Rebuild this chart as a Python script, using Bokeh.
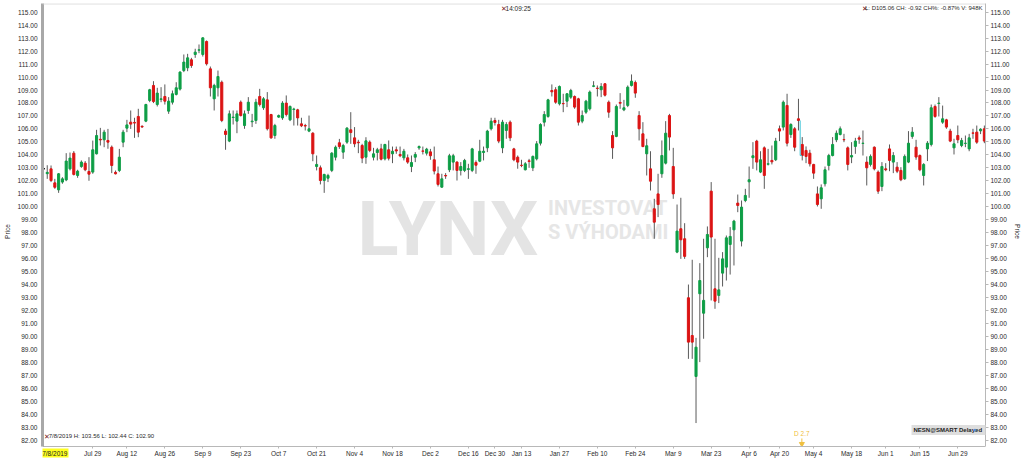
import math
from bokeh.plotting import figure
from bokeh.models import (Range1d, LinearAxis, FixedTicker, SingleIntervalTicker,
                          PrintfTickFormatter, Label, ColumnDataSource, Span)
from bokeh.embed import file_html
from bokeh.resources import INLINE

# ---------------- data (NESN daily) ----------------
opens = [102.95, 102.55, 102.92, 101.84, 101.3, 101.9, 102.07, 102.92, 104.13, 102.41,
         103.1, 103.36, 102.72, 102.67, 104.08, 105.2, 105.16, 105.11, 104.59, 102.65,
         102.79, 104.98, 106.06, 106.52, 106.5, 106.96, 106.2, 106.6, 108.19, 109.35,
         107.88, 108.27, 108.5, 107.37, 108.06, 108.66, 109.07, 110.5, 110.71, 111.33,
         111.74, 112.07, 111.74, 112.74, 110.63, 108.32, 109.17, 109.6, 105.83, 105.06,
         106.88, 106.6, 108.06, 106.26, 107.42, 106.55, 106.65, 108.5, 107.63, 108.24,
         107.11, 105.49, 106.91, 106.85, 107.99, 106.7, 107.5, 107.47, 106.39, 106.26,
         105.83, 105.67, 103.1, 103.0, 102.02, 102.2, 102.8, 103.82, 104.93, 104.21,
         104.98, 105.93, 105.31, 104.98, 104.72, 103.82, 104.98, 103.82, 104.18, 104.46,
         103.69, 104.39, 104.08, 104.39, 104.03, 103.77, 103.77, 103.1, 103.82, 104.54,
         104.3, 104.13, 104.23, 103.62, 102.54, 101.51, 102.41, 102.85, 103.44, 103.44,
         102.8, 102.8, 102.88, 102.8, 103.41, 103.51, 104.18, 104.54, 106.01, 106.65,
         106.34, 104.54, 105.88, 106.52, 104.46, 103.82, 103.2, 102.85, 103.54, 103.0,
         103.69, 104.9, 106.52, 106.96, 108.96, 109.02, 107.94, 107.96, 108.14, 108.45,
         108.5, 108.32, 106.6, 107.29, 107.55, 109.28, 109.14, 109.02, 109.48, 108.06,
         105.49, 105.42, 108.04, 107.47, 107.81, 109.35, 109.58, 107.03, 105.62, 104.08,
         102.92, 99.84, 100.99, 102.54, 103.36, 107.03, 103.1, 96.5, 98.3, 97.53,
         92.98, 90.07, 86.91, 93.29, 91.79, 96.83, 101.2, 93.67, 93.16, 94.88,
         95.34, 97.09, 98.22, 100.28, 97.35, 100.48, 101.92, 103.78, 105.06, 102.67,
         104.54, 103.28, 103.57, 103.62, 106.01, 106.14, 107.81, 105.57, 106.01, 106.78,
         104.8, 104.34, 104.13, 103.26, 100.99, 100.61, 101.77, 103.18, 103.95, 105.16,
         105.57, 105.18, 104.54, 103.83, 104.65, 105.31, 104.88, 103.44, 103.26, 104.59,
         102.67, 101.56, 102.92, 104.46, 103.44, 103.05, 102.8, 102.15, 103.44, 105.42,
         104.59, 103.95, 102.41, 104.46, 104.8, 107.73, 107.96, 106.52, 106.7, 105.83,
         104.54, 105.49, 104.72, 104.88, 104.46, 105.69, 105.75, 105.85, 106.01]
highs = [103.56, 103.2, 103.18, 102.15, 102.6, 102.28, 104.13, 104.18, 104.29, 102.85,
         103.57, 103.52, 103.82, 105.1, 105.93, 106.08, 105.93, 106.0, 104.72, 102.79,
         104.46, 105.93, 106.7, 107.42, 106.86, 107.55, 106.28, 107.94, 109.09, 109.68,
         109.17, 109.22, 109.43, 108.45, 108.96, 109.6, 110.45, 111.74, 111.79, 111.48,
         112.18, 112.51, 113.07, 112.82, 110.81, 109.48, 110.5, 109.73, 106.01, 107.42,
         107.42, 107.42, 108.19, 107.42, 108.45, 107.16, 108.32, 109.09, 108.45, 108.84,
         107.16, 106.39, 107.11, 108.14, 108.58, 107.81, 107.63, 107.55, 106.86, 106.39,
         107.03, 105.75, 103.95, 103.18, 102.54, 102.54, 104.21, 104.72, 105.23, 104.85,
         106.14, 107.29, 106.14, 105.16, 104.85, 105.36, 105.11, 104.54, 104.54, 104.85,
         104.85, 105.11, 104.64, 104.64, 104.64, 104.46, 104.03, 103.95, 104.21, 104.72,
         104.64, 104.54, 104.46, 104.64, 103.1, 102.54, 102.59, 104.08, 104.08, 103.51,
         103.44, 103.69, 103.31, 104.54, 103.57, 105.16, 104.64, 105.93, 106.86, 106.86,
         106.7, 106.7, 106.52, 106.65, 104.54, 103.95, 103.62, 103.44, 103.69, 103.95,
         105.06, 106.44, 107.37, 108.32, 109.43, 109.22, 109.35, 108.71, 108.76, 109.09,
         108.58, 108.4, 107.42, 108.24, 108.96, 109.68, 109.35, 109.53, 109.53, 108.19,
         105.83, 107.88, 108.76, 108.24, 109.35, 110.2, 109.73, 107.37, 106.52, 105.24,
         104.28, 100.61, 102.54, 105.11, 106.6, 107.16, 104.54, 100.17, 100.69, 98.73,
         94.0, 95.91, 89.89, 95.65, 97.53, 98.48, 101.9, 97.53, 96.06, 96.5,
         97.78, 98.43, 98.99, 100.94, 100.48, 101.38, 103.1, 104.98, 105.16, 104.28,
         104.65, 104.46, 104.72, 105.31, 106.26, 108.19, 108.71, 106.44, 106.14, 108.32,
         105.37, 104.65, 104.39, 103.31, 101.56, 101.72, 103.1, 104.08, 105.37, 105.88,
         106.19, 105.62, 104.65, 104.98, 105.31, 105.49, 105.88, 103.88, 104.03, 104.65,
         102.8, 103.44, 103.36, 104.8, 104.21, 103.44, 103.05, 104.03, 105.83, 106.14,
         105.16, 104.03, 103.36, 105.06, 107.88, 107.88, 108.45, 107.8, 106.78, 106.01,
         105.24, 106.26, 105.31, 105.49, 105.62, 106.01, 106.26, 106.05, 106.26]
lows = [102.44, 102.15, 101.9, 101.38, 101.07, 101.77, 101.97, 102.8, 102.41, 102.23,
        103.0, 102.74, 102.0, 102.54, 104.03, 104.72, 104.59, 104.47, 102.59, 102.49,
        102.67, 104.59, 105.75, 106.0, 105.31, 105.36, 106.08, 106.52, 108.06, 107.99,
        107.73, 108.06, 107.88, 107.16, 107.88, 108.58, 108.96, 110.38, 110.45, 110.71,
        111.48, 111.84, 111.58, 110.89, 108.5, 107.42, 108.5, 106.52, 104.39, 104.98,
        106.34, 105.67, 106.96, 106.01, 107.16, 106.14, 106.39, 107.73, 107.47, 105.88,
        105.24, 105.24, 106.85, 106.7, 106.96, 106.6, 106.26, 106.26, 106.14, 105.88,
        105.75, 103.51, 102.8, 101.72, 101.07, 101.9, 102.67, 103.57, 104.46, 103.69,
        104.85, 104.85, 104.59, 104.13, 103.36, 103.31, 104.21, 103.57, 103.57, 103.57,
        103.57, 103.57, 103.36, 104.08, 103.82, 103.57, 103.31, 102.67, 103.44, 104.39,
        104.03, 103.95, 103.62, 102.49, 101.56, 101.46, 102.15, 102.67, 102.8, 102.02,
        102.41, 102.67, 102.15, 102.67, 102.54, 103.44, 103.57, 104.21, 105.88, 106.26,
        104.9, 104.13, 105.24, 105.06, 103.51, 102.93, 103.05, 102.8, 103.0, 102.75,
        103.57, 104.72, 106.19, 106.86, 108.5, 107.94, 107.81, 107.29, 107.68, 108.32,
        107.55, 106.26, 106.44, 107.16, 107.42, 109.22, 108.5, 108.45, 108.5, 106.86,
        103.69, 105.36, 107.55, 107.37, 107.68, 109.27, 108.4, 105.11, 104.59, 102.41,
        101.25, 97.53, 99.2, 102.23, 103.26, 104.34, 100.61, 96.42, 95.98, 95.98,
        88.27, 88.27, 83.32, 88.02, 89.82, 96.11, 92.77, 92.13, 92.57, 93.85,
        94.31, 94.77, 95.47, 99.58, 96.94, 100.35, 100.69, 102.92, 102.8, 102.59,
        101.38, 103.18, 103.26, 103.52, 105.06, 105.88, 104.65, 105.31, 104.28, 105.88,
        103.57, 103.36, 103.1, 102.15, 100.02, 99.84, 101.56, 102.8, 103.88, 104.98,
        105.5, 104.98, 102.8, 103.36, 104.08, 104.85, 103.95, 101.64, 103.1, 102.8,
        100.99, 101.2, 102.74, 102.74, 102.59, 102.59, 101.97, 102.08, 103.36, 105.24,
        103.62, 102.74, 101.64, 103.52, 104.65, 106.86, 106.96, 106.39, 106.01, 104.98,
        104.03, 104.9, 104.59, 104.59, 104.28, 105.24, 104.85, 105.6, 104.9]
closes = [102.90, 102.65, 102.02, 101.5, 102.54, 102.15, 103.52, 103.75, 102.49, 102.74,
          103.44, 102.85, 102.51, 104.39, 105.49, 105.15, 105.75, 104.98, 103.18, 102.54,
          103.82, 105.75, 106.31, 106.37, 106.45, 105.75, 106.15, 107.88, 109.02, 108.11,
          108.76, 108.32, 108.14, 108.14, 108.71, 109.17, 110.38, 111.15, 111.48, 110.89,
          111.92, 112.1, 113.02, 111.02, 109.17, 109.35, 110.04, 106.65, 105.57, 107.16,
          106.91, 107.16, 107.03, 107.16, 108.06, 106.6, 108.06, 107.88, 108.32, 106.01,
          105.31, 106.26, 107.03, 107.99, 107.11, 107.73, 107.53, 106.85, 106.24, 106.22,
          106.01, 104.08, 103.26, 102.02, 102.49, 102.41, 104.13, 104.59, 104.64, 104.72,
          106.06, 105.72, 104.85, 104.93, 103.75, 105.08, 104.34, 104.08, 104.39, 103.67,
          104.8, 103.74, 104.28, 104.3, 103.93, 104.28, 103.44, 103.41, 104.03, 104.64,
          104.28, 104.44, 103.93, 102.75, 101.72, 102.15, 102.37, 103.93, 103.93, 102.8,
          103.1, 103.57, 102.93, 104.46, 103.2, 104.28, 104.28, 105.83, 106.6, 106.5,
          105.06, 106.52, 106.34, 105.31, 103.62, 103.44, 103.18, 103.31, 103.49, 103.88,
          104.85, 106.34, 107.11, 108.24, 108.86, 108.06, 109.27, 107.94, 108.71, 108.96,
          107.68, 106.52, 107.03, 108.14, 108.84, 109.32, 109.12, 109.27, 108.6, 107.29,
          104.54, 107.73, 107.98, 107.63, 109.22, 109.68, 108.76, 106.01, 104.64, 104.7,
          101.97, 98.81, 100.17, 103.95, 105.67, 105.37, 100.99, 98.12, 97.45, 96.17,
          89.56, 89.56, 89.17, 94.31, 92.78, 97.86, 97.66, 92.72, 93.59, 95.98,
          97.6, 97.71, 98.89, 100.1, 99.97, 100.87, 102.08, 103.93, 103.44, 103.62,
          102.41, 103.31, 103.46, 105.06, 105.83, 108.06, 104.9, 106.34, 104.59, 106.65,
          103.95, 103.88, 103.31, 102.59, 100.17, 101.46, 102.85, 103.95, 104.8, 105.67,
          106.01, 105.16, 103.26, 103.95, 105.06, 105.21, 104.9, 103.0, 103.88, 102.92,
          101.2, 103.1, 102.85, 103.57, 103.95, 102.74, 102.08, 103.88, 104.9, 105.75,
          103.83, 102.85, 103.26, 104.9, 107.63, 106.96, 107.99, 106.78, 106.14, 105.06,
          104.85, 105.16, 105.11, 104.9, 105.31, 105.67, 104.98, 105.98, 105.06]

tick_idx = [13, 22, 32, 42, 52, 62, 72, 82, 92, 102, 112, 119, 126, 136, 146, 156,
            166, 176, 186, 194, 203, 213, 222, 231, 241]
tick_labels = ["Jul 29", "Aug 12", "Aug 26", "Sep 9", "Sep 23", "Oct 7", "Oct 21",
               "Nov 4", "Nov 18", "Dec 2", "Dec 16", "Dec 30", "Jan 13", "Jan 27",
               "Feb 10", "Feb 24", "Mar 9", "Mar 23", "Apr 6", "Apr 20", "May 4",
               "May 18", "Jun 1", "Jun 15", "Jun 29"]
first_date = "7/8/2019"
dividend_idx = 199
dividend_amt = 2.7
volume_text = "948K"
symbol = "NESN@SMART Delayed"
clock = "14:09:25"

# ---------------- styling ----------------
GREEN = "#0e9e46"
RED = "#dc1414"
WICK = "#5a5a5a"
TXT = "#2a2a2a"
FONT = "Liberation Sans"
WM_FONT = "Roboto"
AXIS_BOTTOM = 81.513     # price level where the date axis sits
PRICE_TOP = 115.67

n = len(closes)
xs = list(range(n))
colors = [GREEN if c >= o else RED for o, c in zip(opens, closes)]
wick_colors = [WICK] * n
colors[0] = "#000000"      # bar under the crosshair
wick_colors[0] = "#000000"

src = ColumnDataSource(dict(
    x=xs, top=[max(o, c) for o, c in zip(opens, closes)],
    bottom=[min(o, c) for o, c in zip(opens, closes)],
    high=highs, low=lows, color=colors, wcolor=wick_colors))

p = figure(width=1024, height=459, output_backend="svg", toolbar_location=None,
           x_range=Range1d(-0.25, 248.3), y_range=Range1d(80.51, PRICE_TOP),
           min_border_left=38, min_border_right=36, min_border_top=3,
           min_border_bottom=0, background_fill_color="white",
           border_fill_color="white", outline_line_color=None,
           y_axis_location=None)
p.xgrid.visible = False
p.ygrid.visible = False

# top border of the chart area
p.add_layout(Span(location=PRICE_TOP - 0.03, dimension="width",
                  line_color="#d2d2d2", line_width=1))

# watermark
wm = dict(x_units="data", y_units="data", level="underlay", text_baseline="middle")
p.add_layout(Label(x=106.6, y=98.25, text="LYNX", text_font=WM_FONT,
                   text_font_size="76px", text_font_style="bold",
                   text_color="#e4e4e4", text_align="center", **wm))
p.add_layout(Label(x=133.0, y=99.90, text="INVESTOVAT", text_font=WM_FONT,
                   text_font_size="20px", text_font_style="bold",
                   text_color="#e6e6e6", **wm))
p.add_layout(Label(x=133.0, y=98.09, text="S VÝHODAMI", text_font=WM_FONT,
                   text_font_size="20px", text_font_style="bold",
                   text_color="#e6e6e6", **wm))

# candles
p.segment(x0="x", y0="low", x1="x", y1="high", line_color="wcolor",
          line_width=1, source=src)
p.vbar(x="x", width=0.55, top="top", bottom="bottom", fill_color="color",
       line_color="color", line_width=1, source=src)

# dividend adjustment line + marker
dv_close = closes[dividend_idx]
p.segment(x0=[dividend_idx + 0.45, dividend_idx + 0.45],
          y0=[dv_close, dv_close - dividend_amt],
          x1=[dividend_idx + 0.45, dividend_idx + 0.9],
          y1=[dv_close - dividend_amt, dv_close - dividend_amt],
          line_color="#3cc3d6", line_width=1)
p.segment(x0=[dividend_idx + 0.9], y0=[AXIS_BOTTOM + 0.2], x1=[dividend_idx + 0.9],
          y1=[AXIS_BOTTOM + 0.62], line_color="#f0c040", line_width=1)
p.scatter(x=[dividend_idx + 0.9], y=[AXIS_BOTTOM + 0.2], marker="inverted_triangle",
          size=5, fill_color="#f0c040", line_color="#f0c040")
p.add_layout(Label(x=dividend_idx + 0.9, y=82.52, text=f"D {dividend_amt:.1f}",
                   text_font=FONT, text_font_size="6.5px",
                   text_color="#f0c040", text_align="center",
                   text_baseline="middle"))

# x axis (pinned at the bottom price level, labels below it)
xa = p.xaxis[0]
xa.fixed_location = AXIS_BOTTOM
xa.ticker = FixedTicker(ticks=tick_idx)
xa.major_label_overrides = {t: l for t, l in zip(tick_idx, tick_labels)}
xa.major_label_text_font = FONT
xa.major_label_text_font_size = "6.5px"
xa.major_label_text_color = TXT
xa.axis_line_color = "#b8b8b8"
xa.major_tick_line_color = "#b8b8b8"
xa.major_tick_out = 2
xa.major_tick_in = 0
xa.minor_tick_line_color = None
xa.major_label_standoff = 2

# y axes
for loc in ("left", "right"):
    ax = LinearAxis(ticker=SingleIntervalTicker(interval=1, num_minor_ticks=0),
                    formatter=PrintfTickFormatter(format="%.2f"),
                    bounds=(AXIS_BOTTOM, PRICE_TOP), axis_label="Price")
    ax.major_label_text_font = FONT
    ax.major_label_text_font_size = "6.5px"
    ax.major_label_text_color = TXT
    ax.axis_label_text_font = FONT
    ax.axis_label_text_font_size = "6.5px"
    ax.axis_label_text_font_style = "normal"
    ax.axis_label_text_color = TXT
    ax.minor_tick_line_color = None
    ax.major_tick_in = 0
    if loc == "left":
        ax.axis_line_color = "#a8a8a8"
        ax.axis_line_width = 3
        ax.major_tick_out = 0
        ax.major_tick_line_color = None
        ax.major_label_standoff = 5
        ax.axis_label_standoff = 4
    else:
        ax.axis_line_color = "#b8b8b8"
        ax.major_tick_out = 3
        ax.major_tick_line_color = "#b8b8b8"
        ax.major_label_standoff = 2
        ax.axis_label_standoff = 1
    p.add_layout(ax, loc)

# crosshair date on the date axis
p.add_layout(Label(x=3.0, y=81.01, text=first_date, text_font=FONT,
                   text_font_size="6.5px", text_color="#222222", text_align="center",
                   text_baseline="middle", background_fill_color="#ffff20",
                   padding=1))

# info texts
XCOL = "#7a2020"
def info(x, y, text, color=TXT, align="left", size="6.5px", **kw):
    p.add_layout(Label(x=x, y=y, text=text, text_font=FONT,
                       text_font_size=size, text_color=color, text_align=align,
                       text_baseline="middle", **kw))

info(120.6, 115.29, "✕", XCOL)
info(121.8, 115.29, clock)
chg = closes[-1] - closes[-2]
info(215.7, 115.29, "✕", XCOL)
info(247.5, 115.29, f"L: D{closes[-1]:.2f} CH: {chg:.2f} CH%: {chg / closes[-2] * 100:.2f}% V: {volume_text}",
     align="right", size="6px")
info(0.27, 82.29, "✕", XCOL)
info(1.4, 82.29, f"{first_date}   H: {highs[0]:.2f}   L: {lows[0]:.2f}   C: {closes[0]:.2f}",
     size="6px")
info(228.8, 82.79, symbol + "\u00a0\u00a0\u00a0", "#1e1e1e", size="6px",
     text_font_style="bold", background_fill_color="#dedede", padding=2)
info(245.4, 82.79, "●", "#5b8fd6", size="7px", align="center")

open("out.html", "w").write(file_html(p, INLINE))
